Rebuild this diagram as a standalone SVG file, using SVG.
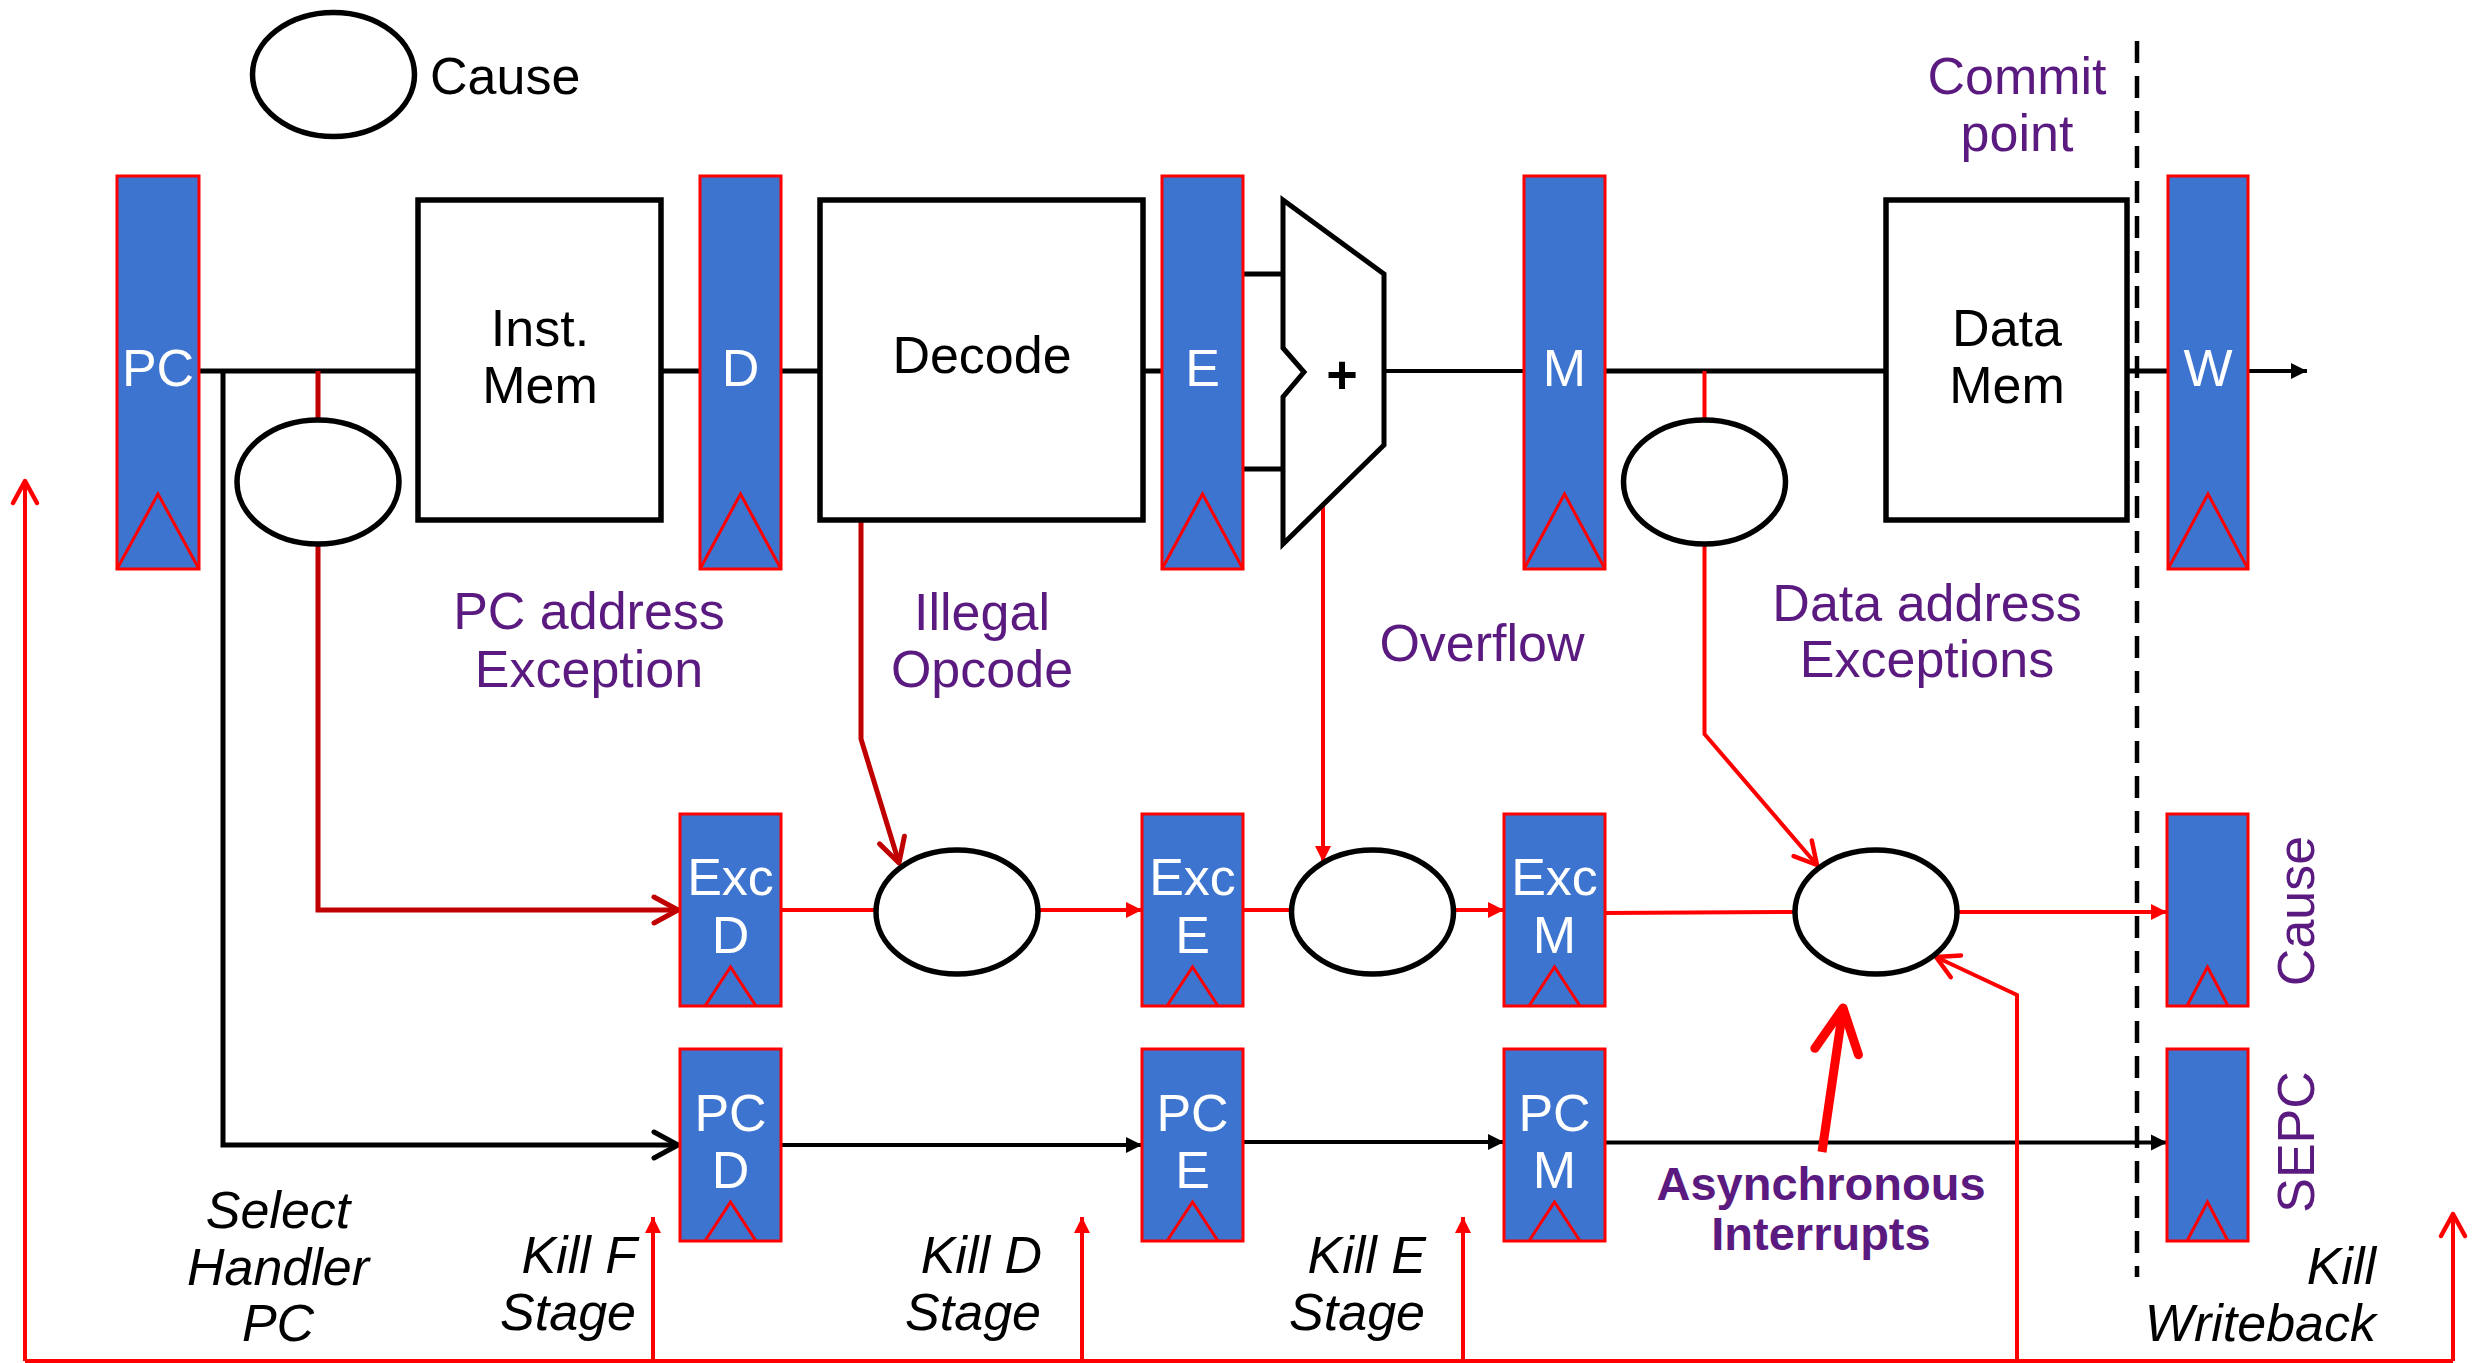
<svg xmlns="http://www.w3.org/2000/svg" width="2476" height="1363" viewBox="0 0 2476 1363">
<style>
text{font-family:"Liberation Sans",Arial,sans-serif;font-size:52px}
.reg{fill:#3D74CF;stroke:#FF0000;stroke-width:3}
.clk{fill:none;stroke:#FF0000;stroke-width:3}
.rt{fill:#FFFFFF;text-anchor:middle}
.box{fill:#FFFFFF;stroke:#000000;stroke-width:5.5}
.ell{fill:#FFFFFF;stroke:#000000;stroke-width:5.5}
.bt{fill:#000000;text-anchor:middle}
.pt{fill:#5A1A80;text-anchor:middle}
.it{fill:#000000;font-style:italic;text-anchor:end}
.blk{fill:none;stroke:#000000;stroke-width:5}
.blk4{fill:none;stroke:#000000;stroke-width:4}
.red{fill:none;stroke:#FF0000;stroke-width:4}
.dred{fill:none;stroke:#C00000;stroke-width:5}
</style>
<defs>
<marker id="fr" markerUnits="userSpaceOnUse" markerWidth="40" markerHeight="40" refX="0" refY="0" orient="auto" overflow="visible"><path d="M-16,-8 L0,0 L-16,8 Z" fill="#FF0000"/></marker>
<marker id="fk" markerUnits="userSpaceOnUse" markerWidth="40" markerHeight="40" refX="0" refY="0" orient="auto" overflow="visible"><path d="M-16,-8 L0,0 L-16,8 Z" fill="#000000"/></marker>
<marker id="vr" markerUnits="userSpaceOnUse" markerWidth="40" markerHeight="40" refX="0" refY="0" orient="auto" overflow="visible"><path d="M-22,-12 L0,0 L-22,12" fill="none" stroke="#FF0000" stroke-width="4.5" stroke-linecap="round" stroke-linejoin="round"/></marker>
<marker id="vd" markerUnits="userSpaceOnUse" markerWidth="40" markerHeight="40" refX="0" refY="0" orient="auto" overflow="visible"><path d="M-24,-13 L0,0 L-24,13" fill="none" stroke="#C00000" stroke-width="5" stroke-linecap="round" stroke-linejoin="round"/></marker>
<marker id="vk" markerUnits="userSpaceOnUse" markerWidth="40" markerHeight="40" refX="0" refY="0" orient="auto" overflow="visible"><path d="M-24,-13 L0,0 L-24,13" fill="none" stroke="#000000" stroke-width="5" stroke-linecap="round" stroke-linejoin="round"/></marker>
<marker id="vbig" markerUnits="userSpaceOnUse" markerWidth="80" markerHeight="80" refX="0" refY="0" orient="auto" overflow="visible"><path d="M-44,-22 L0,0 L-44,22" fill="none" stroke="#FF0000" stroke-width="9" stroke-linecap="round" stroke-linejoin="round"/></marker>
</defs>

<g id="connectors">
<!-- main datapath -->
<line class="blk" x1="199" y1="371" x2="418" y2="371"/>
<line class="blk" x1="661" y1="371" x2="700" y2="371"/>
<line class="blk" x1="781" y1="371" x2="820" y2="371"/>
<line class="blk" x1="1143" y1="371" x2="1162" y2="371"/>
<line class="blk" x1="1243" y1="274" x2="1283" y2="274"/>
<line class="blk" x1="1243" y1="469" x2="1283" y2="469"/>
<line class="blk4" x1="1384" y1="371" x2="1524" y2="371"/>
<line class="blk" x1="1605" y1="371" x2="1886" y2="371"/>
<line class="blk" x1="2127" y1="371" x2="2168" y2="371"/>
<line class="blk4" x1="2248" y1="371" x2="2307" y2="371" marker-end="url(#fk)"/>
<!-- PC branch to PC D -->
<polyline class="blk" points="223,371 223,1145 678,1145" marker-end="url(#vk)"/>
<!-- PC address exception -->
<line class="dred" x1="318" y1="371" x2="318" y2="420"/>
<polyline class="dred" points="318,544 318,910 678,910" marker-end="url(#vd)"/>
<!-- Illegal opcode -->
<polyline class="dred" points="861,520 861,739 899,863" marker-end="url(#vd)"/>
<!-- Exc chain -->
<line class="red" x1="781" y1="910" x2="876" y2="910"/>
<line class="red" x1="1038" y1="910" x2="1142" y2="910" marker-end="url(#fr)"/>
<line class="red" x1="1243" y1="910" x2="1291" y2="910"/>
<line class="red" x1="1323" y1="496" x2="1323" y2="862" marker-end="url(#fr)"/>
<line class="red" x1="1454" y1="910" x2="1504" y2="910" marker-end="url(#fr)"/>
<line class="red" x1="1605" y1="913" x2="1795" y2="912"/>
<line class="red" x1="1704.5" y1="371" x2="1704.5" y2="420"/>
<polyline class="red" points="1704.5,544 1704.5,734 1817,865" marker-end="url(#vr)"/>
<line class="red" x1="1957" y1="912" x2="2167" y2="912" marker-end="url(#fr)"/>
<!-- PC chain -->
<line class="blk4" x1="781" y1="1145" x2="1142" y2="1145" marker-end="url(#fk)"/>
<line class="blk4" x1="1243" y1="1142" x2="1504" y2="1142" marker-end="url(#fk)"/>
<line class="blk4" x1="1605" y1="1142.5" x2="2167" y2="1142.5" marker-end="url(#fk)"/>
<!-- kill bus -->
<polyline class="red" points="25,1361 25,481" marker-end="url(#vr)"/>
<line class="red" x1="25" y1="1361" x2="2453" y2="1361"/>
<line class="red" x1="2453" y1="1361" x2="2453" y2="1214" marker-end="url(#vr)"/>
<line class="red" x1="653" y1="1361" x2="653" y2="1217" marker-end="url(#fr)"/>
<line class="red" x1="1082" y1="1361" x2="1082" y2="1217" marker-end="url(#fr)"/>
<line class="red" x1="1463" y1="1361" x2="1463" y2="1217" marker-end="url(#fr)"/>
<polyline class="red" points="2017,1361 2017,995 1936,957" marker-end="url(#vr)"/>
<!-- asynchronous interrupts -->
<line x1="1822" y1="1152" x2="1843" y2="1008" stroke="#FF0000" stroke-width="9" marker-end="url(#vbig)"/>
<!-- commit point -->
<line x1="2137" y1="41" x2="2137" y2="1277" stroke="#000000" stroke-width="4.5" stroke-dasharray="22,13"/>
</g>

<g id="legend">
<ellipse class="ell" cx="333.5" cy="74.5" rx="81" ry="62"/>
<text x="430" y="94" fill="#000000">Cause</text>
</g>

<g id="reg-PC"><rect class="reg" x="117" y="176" width="82" height="393"/><polyline class="clk" points="117,569 158,494 199,569"/><text class="rt" x="158" y="386">PC</text></g>
<g id="inst-mem"><rect class="box" x="418" y="200" width="243" height="320"/><text class="bt" x="540" y="346">Inst.</text><text class="bt" x="540" y="403">Mem</text></g>
<g id="reg-D"><rect class="reg" x="700" y="176" width="81" height="393"/><polyline class="clk" points="700,569 740.5,494 781,569"/><text class="rt" x="740.5" y="386">D</text></g>
<g id="decode"><rect class="box" x="820" y="200" width="323" height="320"/><text class="bt" x="982" y="373">Decode</text></g>
<g id="reg-E"><rect class="reg" x="1162" y="176" width="81" height="393"/><polyline class="clk" points="1162,569 1202.5,494 1243,569"/><text class="rt" x="1202.5" y="386">E</text></g>
<g id="alu"><polygon points="1283,200 1384,274 1384,445 1283,544 1283,397 1304,372 1283,348" fill="#FFFFFF" stroke="#000000" stroke-width="5" stroke-linejoin="miter"/><text class="bt" x="1342" y="393" style="font-weight:bold;font-size:54px">+</text></g>
<g id="reg-M"><rect class="reg" x="1524" y="176" width="81" height="393"/><polyline class="clk" points="1524,569 1564.5,494 1605,569"/><text class="rt" x="1564.5" y="386">M</text></g>
<g id="data-mem"><rect class="box" x="1886" y="200" width="241" height="320"/><text class="bt" x="2007" y="346">Data</text><text class="bt" x="2007" y="403">Mem</text></g>
<g id="reg-W"><rect class="reg" x="2168" y="176" width="80" height="393"/><polyline class="clk" points="2168,569 2208,494 2248,569"/><text class="rt" x="2208" y="386">W</text></g>

<g id="chk-pc"><ellipse class="ell" cx="318" cy="482" rx="81" ry="62"/></g>
<g id="chk-mem"><ellipse class="ell" cx="1704.5" cy="482" rx="81" ry="62"/></g>
<g id="mux-D"><ellipse class="ell" cx="957" cy="912" rx="81" ry="62"/></g>
<g id="mux-E"><ellipse class="ell" cx="1372.5" cy="912" rx="81" ry="62"/></g>
<g id="mux-M"><ellipse class="ell" cx="1876" cy="912" rx="81" ry="62"/></g>

<g id="reg-ExcD"><rect class="reg" x="680" y="814" width="101" height="192"/><polyline class="clk" points="705,1006 730.5,967 756,1006"/><text class="rt" x="730.5" y="895">Exc</text><text class="rt" x="730.5" y="953">D</text></g>
<g id="reg-ExcE"><rect class="reg" x="1142" y="814" width="101" height="192"/><polyline class="clk" points="1167,1006 1192.5,967 1218,1006"/><text class="rt" x="1192.5" y="895">Exc</text><text class="rt" x="1192.5" y="953">E</text></g>
<g id="reg-ExcM"><rect class="reg" x="1504" y="814" width="101" height="192"/><polyline class="clk" points="1529,1006 1554.5,967 1580,1006"/><text class="rt" x="1554.5" y="895">Exc</text><text class="rt" x="1554.5" y="953">M</text></g>
<g id="reg-Cause"><rect class="reg" x="2167" y="814" width="81" height="192"/><polyline class="clk" points="2187,1006 2207.5,967 2228,1006"/><text class="pt" transform="translate(2314,911) rotate(-90)">Cause</text></g>

<g id="reg-PCD"><rect class="reg" x="680" y="1049" width="101" height="192"/><polyline class="clk" points="705,1241 730.5,1202 756,1241"/><text class="rt" x="730.5" y="1131">PC</text><text class="rt" x="730.5" y="1188">D</text></g>
<g id="reg-PCE"><rect class="reg" x="1142" y="1049" width="101" height="192"/><polyline class="clk" points="1167,1241 1192.5,1202 1218,1241"/><text class="rt" x="1192.5" y="1131">PC</text><text class="rt" x="1192.5" y="1188">E</text></g>
<g id="reg-PCM"><rect class="reg" x="1504" y="1049" width="101" height="192"/><polyline class="clk" points="1529,1241 1554.5,1202 1580,1241"/><text class="rt" x="1554.5" y="1131">PC</text><text class="rt" x="1554.5" y="1188">M</text></g>
<g id="reg-SEPC"><rect class="reg" x="2167" y="1049" width="81" height="192"/><polyline class="clk" points="2187,1241 2207.5,1202 2228,1241"/><text class="pt" transform="translate(2314,1142) rotate(-90)">SEPC</text></g>

<g id="labels">
<text class="pt" x="2017" y="94">Commit</text>
<text class="pt" x="2017" y="151">point</text>
<text class="pt" x="589" y="629">PC address</text>
<text class="pt" x="589" y="687">Exception</text>
<text class="pt" x="982" y="630">Illegal</text>
<text class="pt" x="982" y="687">Opcode</text>
<text class="pt" x="1482" y="661">Overflow</text>
<text class="pt" x="1927" y="621">Data address</text>
<text class="pt" x="1927" y="677">Exceptions</text>
<text class="pt" x="1821" y="1200" style="font-weight:bold;font-size:47px">Asynchronous</text>
<text class="pt" x="1821" y="1250" style="font-weight:bold;font-size:47px">Interrupts</text>
<text class="it" x="278" y="1228" style="text-anchor:middle">Select</text>
<text class="it" x="278" y="1285" style="text-anchor:middle">Handler</text>
<text class="it" x="278" y="1341" style="text-anchor:middle">PC</text>
<text class="it" x="637" y="1273">Kill F</text>
<text class="it" x="636" y="1330">Stage</text>
<text class="it" x="1042" y="1273">Kill D</text>
<text class="it" x="1041" y="1330">Stage</text>
<text class="it" x="1426" y="1273">Kill E</text>
<text class="it" x="1425" y="1330">Stage</text>
<text class="it" x="2376" y="1284">Kill</text>
<text class="it" x="2376" y="1341">Writeback</text>
</g>
</svg>
